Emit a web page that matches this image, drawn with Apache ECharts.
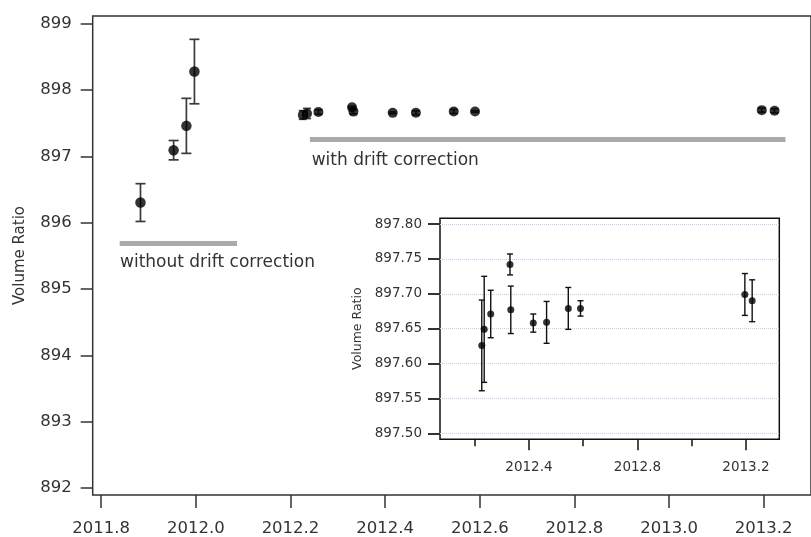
<!DOCTYPE html>
<html>
<head>
<meta charset="utf-8">
<script src="https://cdn.jsdelivr.net/npm/echarts@6/dist/echarts.min.js"></script>
<style>
  html, body { margin: 0; padding: 0; background: #fff; }
  #chart { width: 811px; height: 537px; }
</style>
</head>
<body>
<div id="chart"></div>
<script>
// Measurements before drift correction (decimal year, volume ratio, 1-sigma error)
const rawYear  = [2011.883, 2011.953, 2011.980, 2011.997];
const rawRatio = [896.305, 897.095, 897.462, 898.281];
const rawErr   = [0.285, 0.146, 0.415, 0.486];

// Measurements after drift correction
const corrYear  = [2012.226, 2012.235, 2012.259, 2012.330, 2012.333, 2012.416, 2012.465, 2012.545, 2012.590, 2013.196, 2013.223];
const corrRatio = [897.626, 897.649, 897.671, 897.742, 897.677, 897.658, 897.659, 897.679, 897.679, 897.699, 897.690];
const corrErr   = [0.065, 0.076, 0.034, 0.015, 0.034, 0.013, 0.030, 0.030, 0.011, 0.030, 0.030];

// Tick labels
const mainXTicks  = [2011.8, 2012.0, 2012.2, 2012.4, 2012.6, 2012.8, 2013.0, 2013.2];
const mainYTicks  = [892, 893, 894, 895, 896, 897, 898, 899];
const insetMajorX = [2012.4, 2012.8, 2013.2];
const insetMinorX = [2012.2, 2012.6, 2013.0];

// Grey range bars marking the two measurement periods: [startYear, endYear, ratio]
const uncorrectedSpan = [2011.839, 2012.087, 895.69];
const correctedSpan   = [2012.241, 2013.246, 897.264];

const FONT = '"DejaVu Sans", Verdana, sans-serif';
const TEXT = '#333';

function errorBars(xs, ys, es, xAxisIndex, yAxisIndex, cap, color, width) {
  return {
    type: 'custom',
    xAxisIndex: xAxisIndex,
    yAxisIndex: yAxisIndex,
    silent: true,
    z: 3,
    data: xs.map((x, i) => [x, ys[i] - es[i], ys[i] + es[i]]),
    encode: { x: 0, y: [1, 2] },
    renderItem: function (params, api) {
      const lo = api.coord([api.value(0), api.value(1)]);
      const hi = api.coord([api.value(0), api.value(2)]);
      const h = cap / 2;
      const style = { stroke: color, lineWidth: width };
      return {
        type: 'group',
        children: [
          { type: 'line', shape: { x1: lo[0], y1: lo[1], x2: hi[0], y2: hi[1] }, style: style },
          { type: 'line', shape: { x1: lo[0] - h, y1: lo[1], x2: lo[0] + h, y2: lo[1] }, style: style },
          { type: 'line', shape: { x1: hi[0] - h, y1: hi[1], x2: hi[0] + h, y2: hi[1] }, style: style }
        ]
      };
    }
  };
}

function pairs(xs, ys) { return xs.map((x, i) => [x, ys[i]]); }

function spanLine(span) {
  return [{ coord: [span[0], span[2]] }, { coord: [span[1], span[2]] }];
}

const chart = echarts.init(document.getElementById('chart'), null, { renderer: 'canvas' });

chart.setOption({
  backgroundColor: '#fff',
  animation: false,
  grid: [
    // main plot
    { left: 92.7, right: -3, top: 16, bottom: 42, show: true, borderColor: '#333', borderWidth: 1.5, backgroundColor: 'transparent' },
    // inset frame
    { left: 440, right: 31.7, top: 218.3, bottom: 97.7, show: true, borderColor: '#111', borderWidth: 1.5, backgroundColor: '#fff', z: 0 },
    // inset data area
    { left: 440, right: 31.7, top: 224, bottom: 103.7 }
  ],
  xAxis: [
    {
      gridIndex: 0, type: 'value', min: 2011.782, max: 2013.3,
      axisLine: { show: false },
      splitLine: { show: false },
      axisTick: { show: true, inside: false, length: 13, customValues: mainXTicks, lineStyle: { color: '#333', width: 1.5 } },
      axisLabel: { customValues: mainXTicks, margin: 25, fontFamily: FONT, fontSize: 16.5, color: TEXT,
                   formatter: v => v.toFixed(1) }
    },
    { gridIndex: 1, type: 'value', min: 0, max: 1, show: false },
    {
      gridIndex: 2, type: 'value', min: 2012.072, max: 2013.323, offset: 6, z: 2,
      axisLine: { show: false },
      splitLine: { show: false },
      axisTick: { length: 7, customValues: insetMinorX, lineStyle: { color: '#111', width: 1.5 } },
      axisLabel: { show: false }
    },
    {
      gridIndex: 2, type: 'value', min: 2012.072, max: 2013.323, offset: 6, position: 'bottom', z: 2,
      axisLine: { show: false },
      splitLine: { show: false },
      axisTick: { length: 11, customValues: insetMajorX, lineStyle: { color: '#111', width: 1.5 } },
      axisLabel: { customValues: insetMajorX, margin: 21, fontFamily: FONT, fontSize: 13.5, color: TEXT,
                   formatter: v => v.toFixed(1) }
    }
  ],
  yAxis: [
    {
      gridIndex: 0, type: 'value', min: 891.894, max: 899.119,
      axisLine: { show: false },
      splitLine: { show: false },
      axisTick: { length: 12, customValues: mainYTicks, lineStyle: { color: '#333', width: 1.5 } },
      axisLabel: { customValues: mainYTicks, margin: 21, fontFamily: FONT, fontSize: 16.5, color: TEXT,
                   formatter: v => v.toFixed(0) },
      name: 'Volume Ratio', nameLocation: 'middle', nameGap: 65, nameRotate: 90,
      nameTextStyle: { fontFamily: FONT, fontSize: 15, color: TEXT }
    },
    { gridIndex: 1, type: 'value', min: 0, max: 1, show: false },
    {
      gridIndex: 2, type: 'value', min: 897.5, max: 897.8, interval: 0.05, z: 2,
      axisLine: { show: false },
      axisTick: { length: 12, lineStyle: { color: '#333', width: 2 } },
      splitLine: { show: true, lineStyle: { color: '#c8c8f4', type: 'dotted', width: 1 } },
      axisLabel: { margin: 18, fontFamily: FONT, fontSize: 13.5, color: TEXT, formatter: v => v.toFixed(2) },
      name: 'Volume Ratio', nameLocation: 'middle', nameGap: 76, nameRotate: 90,
      nameTextStyle: { fontFamily: FONT, fontSize: 12.5, color: TEXT }
    }
  ],
  series: [
    // main plot: error bars then points
    errorBars(rawYear, rawRatio, rawErr, 0, 0, 10, '#3a3a3a', 1.7),
    errorBars(corrYear, corrRatio, corrErr, 0, 0, 8, '#3a3a3a', 1.7),
    {
      type: 'scatter', xAxisIndex: 0, yAxisIndex: 0, z: 4,
      symbol: 'circle', symbolSize: 10.5, itemStyle: { color: '#000' },
      data: pairs(rawYear, rawRatio)
    },
    {
      type: 'scatter', xAxisIndex: 0, yAxisIndex: 0, z: 4,
      symbol: 'circle', symbolSize: 10, itemStyle: { color: '#000' },
      data: pairs(corrYear, corrRatio),
      markLine: {
        silent: true, symbol: 'none', animation: false,
        lineStyle: { color: '#aaaaaa', width: 5, type: 'solid' },
        label: { show: false },
        data: [spanLine(uncorrectedSpan), spanLine(correctedSpan)]
      }
    },
    // inset: drift-corrected points only
    errorBars(corrYear, corrRatio, corrErr, 3, 2, 6, '#111', 1.4),
    {
      type: 'scatter', xAxisIndex: 3, yAxisIndex: 2, z: 4,
      symbol: 'circle', symbolSize: 7, itemStyle: { color: '#000' },
      data: pairs(corrYear, corrRatio)
    }
  ],
  graphic: [
    { type: 'text', left: 120, top: 254, z: 10,
      style: { text: 'without drift correction', font: '17px ' + FONT, fill: TEXT } },
    { type: 'text', left: 311.7, top: 152, z: 10,
      style: { text: 'with drift correction', font: '17px ' + FONT, fill: TEXT } }
  ]
});
</script>
</body>
</html>
